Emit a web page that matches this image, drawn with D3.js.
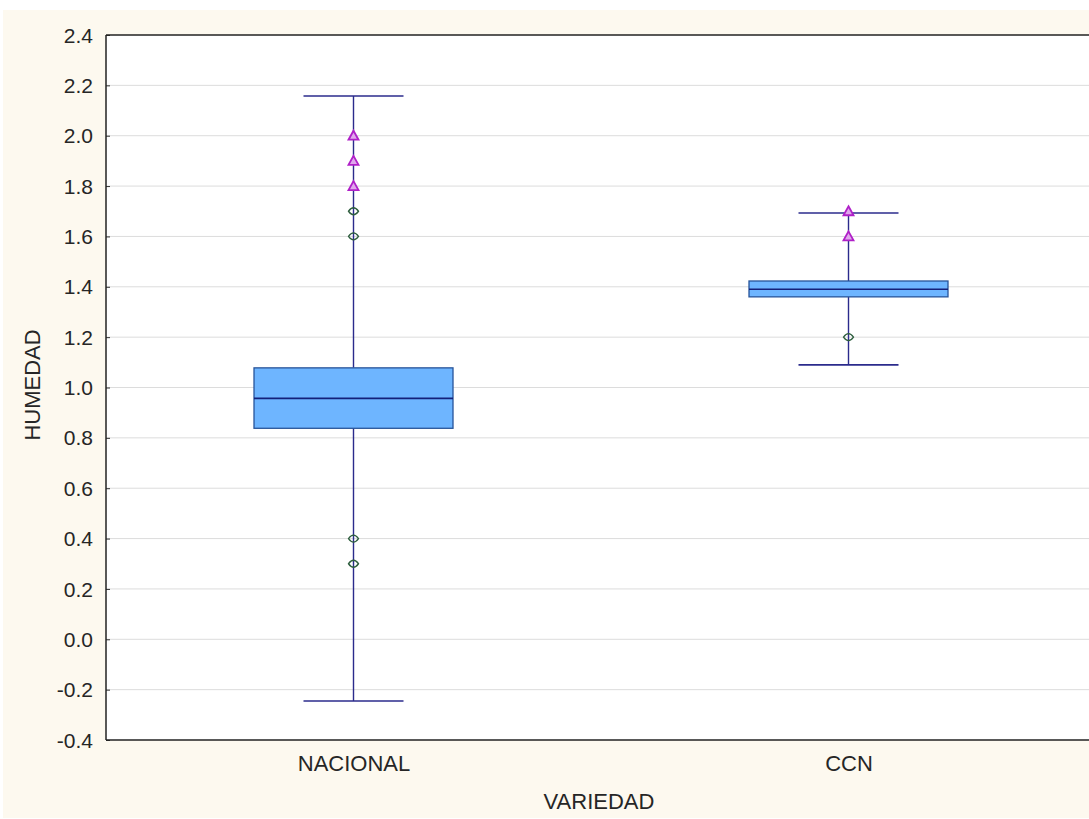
<!DOCTYPE html>
<html><head><meta charset="utf-8">
<script src="https://cdn.jsdelivr.net/npm/d3@7"></script>
<style>
html,body{margin:0;padding:0;background:#fff;}
svg{display:block;font-family:"Liberation Sans",Arial,sans-serif;}
</style></head>
<body>
<svg id="c" width="1089" height="819"></svg>
<script>
const categories = ["NACIONAL", "CCN"];
const whiskerLow  = [-0.245, 1.09];
const q1          = [0.838, 1.360];
const median      = [0.957, 1.390];
const q3          = [1.078, 1.423];
const whiskerHigh = [2.158, 1.693];
const extremes = [[2.0, 1.9, 1.8], [1.7, 1.6]];   // triangles
const outliers = [[1.7, 1.6, 0.4, 0.3], [1.2]];  // circles
const yTicks = [2.4,2.2,2.0,1.8,1.6,1.4,1.2,1.0,0.8,0.6,0.4,0.2,0.0,-0.2,-0.4];

const FONT = "'Liberation Sans',Arial,sans-serif";
const svg = d3.select("#c");
svg.append("rect").attr("x",3).attr("y",10).attr("width",1086).attr("height",808).attr("fill","#fdf9ef");

const L=106, T=35, B=740, R=1096;
const y = d3.scaleLinear().domain([-0.4,2.4]).range([B,T]);
const x = d3.scalePoint().domain(categories).range([L,R]).padding(0.5);

svg.append("rect").attr("x",L).attr("y",T).attr("width",1089-L).attr("height",B-T).attr("fill","#fff");

// gridlines
svg.append("g").selectAll("line").data(yTicks.slice(1,-1)).join("line")
  .attr("x1",L).attr("x2",1089).attr("y1",d=>y(d)).attr("y2",d=>y(d))
  .attr("stroke","#dcdcdc").attr("stroke-width",1);

// y axis
const fmt = d3.format(".1f");
const yAxis = d3.axisLeft(y).tickValues(yTicks).tickFormat(d=>fmt(d).replace("\u2212","-")).tickSize(-4).tickPadding(13);
const ga = svg.append("g").attr("transform",`translate(${L},0)`).call(yAxis);
ga.attr("font-size",null).attr("font-family",null);
ga.select(".domain").remove();
ga.selectAll(".tick line").attr("stroke","#333");
ga.selectAll("text").attr("font-size",21).attr("fill","#262626").attr("font-family",FONT).attr("dy","0.34em");

// x axis labels
const xAxis = d3.axisBottom(x).tickSize(0).tickPadding(15);
const gx = svg.append("g").attr("transform",`translate(0,${B})`).call(xAxis);
gx.attr("font-size",null).attr("font-family",null);
gx.select(".domain").remove();
gx.selectAll("text").attr("font-size",22).attr("fill","#262626").attr("font-family",FONT).attr("dy","0.71em");

// frame
svg.append("line").attr("x1",L).attr("x2",1089).attr("y1",T).attr("y2",T).attr("stroke","#222").attr("stroke-width",1.5);
svg.append("line").attr("x1",L).attr("x2",1089).attr("y1",B).attr("y2",B).attr("stroke","#222").attr("stroke-width",1.5);
svg.append("line").attr("x1",L).attr("x2",L).attr("y1",T).attr("y2",B).attr("stroke","#222").attr("stroke-width",1.5);

const boxW = 199, capW = 100;
const g = svg.append("g");
categories.forEach((c,i)=>{
  const cx = x(c);
  g.append("line").attr("x1",cx).attr("x2",cx).attr("y1",y(whiskerHigh[i])).attr("y2",y(q3[i])).attr("stroke","#2b2b8c").attr("stroke-width",1.4);
  g.append("line").attr("x1",cx).attr("x2",cx).attr("y1",y(q1[i])).attr("y2",y(whiskerLow[i])).attr("stroke","#2b2b8c").attr("stroke-width",1.4);
  [whiskerHigh[i],whiskerLow[i]].forEach(v=>{
    g.append("line").attr("x1",cx-capW/2).attr("x2",cx+capW/2).attr("y1",y(v)).attr("y2",y(v)).attr("stroke","#2b2b8c").attr("stroke-width",1.6);
  });
  g.append("rect").attr("x",cx-boxW/2).attr("width",boxW).attr("y",y(q3[i])).attr("height",y(q1[i])-y(q3[i]))
    .attr("fill","#6eb5ff").attr("stroke","#27549a").attr("stroke-width",1.3);
  g.append("line").attr("x1",cx-boxW/2).attr("x2",cx+boxW/2).attr("y1",y(median[i])).attr("y2",y(median[i])).attr("stroke","#14207a").attr("stroke-width",1.6);
  outliers[i].forEach(v=>{
    const yy=y(v);
    g.append("path").attr("d",`M${cx-5},${yy}Q${cx},${yy-7} ${cx+5},${yy}Q${cx},${yy+7} ${cx-5},${yy}Z`)
      .attr("fill","none").attr("stroke","#2e5e3e").attr("stroke-width",1.3);
  });
  extremes[i].forEach(v=>{
    const yy=y(v);
    g.append("path").attr("d",`M${cx},${yy-5}L${cx+5},${yy+4}L${cx-5},${yy+4}Z`).attr("fill","#e0a8ec").attr("stroke","#b020c8").attr("stroke-width",1.8);
  });
});

svg.append("text").attr("transform",`translate(40,${385}) rotate(-90)`).attr("text-anchor","middle")
  .attr("font-size",22).attr("fill","#262626").text("HUMEDAD");
svg.append("text").attr("x",599).attr("y",809).attr("text-anchor","middle").attr("font-size",22).attr("fill","#262626").text("VARIEDAD");
</script>
</body></html>
